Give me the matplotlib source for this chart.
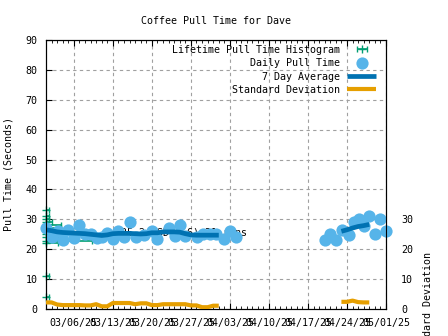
import matplotlib
matplotlib.use("Agg")
import matplotlib.pyplot as plt
import matplotlib.dates as mdates
import numpy as np
import pandas as pd

title = "Coffee Pull Time for Dave"

# daily pulls (seconds)
pull_when = [
    "2025-03-01 00:00", "2025-03-02 00:00", "2025-03-03 05:00", "2025-03-04 02:00",
    "2025-03-05 00:00", "2025-03-06 02:00", "2025-03-07 00:00", "2025-03-08 00:00",
    "2025-03-09 02:00", "2025-03-10 02:00", "2025-03-11 00:00", "2025-03-12 00:00",
    "2025-03-13 02:00", "2025-03-14 00:00", "2025-03-15 02:00", "2025-03-16 02:00",
    "2025-03-17 05:00", "2025-03-18 12:00", "2025-03-20 00:00", "2025-03-21 00:00",
    "2025-03-23 02:00", "2025-03-24 05:00", "2025-03-25 02:00", "2025-03-26 00:00",
    "2025-03-28 02:00", "2025-03-29 02:00", "2025-03-30 10:00", "2025-03-31 14:00",
    "2025-04-02 00:00", "2025-04-03 00:00", "2025-04-04 02:00",
    "2025-04-20 02:00", "2025-04-21 00:00", "2025-04-22 02:00", "2025-04-23 02:00",
    "2025-04-24 07:00", "2025-04-25 05:00", "2025-04-26 02:00", "2025-04-27 02:00",
    "2025-04-28 00:00", "2025-04-29 02:00", "2025-04-30 00:00", "2025-05-01 00:00",
]
pull_secs = [
    27.1, 24.0, 26.2, 23.0, 26.4, 23.9, 28.1, 25.0,
    25.0, 23.9, 24.0, 25.3, 23.3, 26.0, 24.0, 29.2,
    24.2, 24.7, 26.0, 23.3, 27.0, 24.5, 28.1, 24.4,
    24.2, 25.0, 25.0, 25.0, 23.3, 26.0, 24.2,
    23.0, 25.0, 23.0, 26.4, 24.7, 29.2, 30.0, 27.8,
    31.1, 25.0, 30.0, 26.0,
]

# 7 day rolling average, two stretches
avg1_start, avg1_end = "2025-03-01", "2025-04-01"
avg1 = [26.5, 26.2, 25.8, 25.6, 25.5, 25.4, 25.3, 25.2, 25.0, 24.8, 24.6,
        24.8, 25.2, 25.3, 25.3, 25.3, 25.2, 25.1, 25.2, 25.5, 25.5, 25.8,
        25.8, 25.8, 25.7, 25.2, 24.8, 24.7, 24.7, 24.7, 24.7, 24.7]
avg2_start, avg2_end = "2025-04-23", "2025-04-28"
avg2 = [26.0, 26.5, 27.1, 27.6, 27.9, 28.3]

# standard deviation, same stretches
std1 = [2.2, 2.2, 1.5, 1.3, 1.3, 1.3, 1.3, 1.2, 1.2, 1.6, 0.9,
        0.9, 2.0, 2.0, 2.0, 2.0, 1.6, 1.9, 1.9, 1.3, 1.3, 1.6,
        1.6, 1.6, 1.6, 1.6, 1.2, 1.2, 0.6, 0.6, 1.1, 1.1]
std2 = [2.4, 2.4, 2.8, 2.3, 2.2, 2.2]

# lifetime histogram: pull time bin -> count
hist_bins = [4, 11, 22, 22.8, 24, 25, 26, 27, 28, 29, 30, 31, 33]
hist_counts = [1, 1, 4, 15, 6, 10, 7, 5, 5, 2, 1, 1, 1]
hist_scale = 0.55  # days of bar per count

# summary label, mostly hidden behind the points
note_text = "25.2 (SD 1.6) 31 runs"
note_when, note_y = "2025-03-14 12:00", 25.7

x_start, x_end = "2025-03-01", "2025-05-01"

plt.rcParams['font.family'] = ['DejaVu Sans Mono']
plt.rcParams['font.size'] = 7.2

green = "#009e73"
lightblue = "#56b4e9"
darkblue = "#0072b2"
orange = "#e69f00"

fig = plt.figure(figsize=(4.48, 3.36), dpi=100)
ax = fig.add_axes([46 / 448, 1 - 309 / 336, 340 / 448, 269 / 336])

x0 = mdates.date2num(pd.Timestamp(x_start))
x1 = mdates.date2num(pd.Timestamp(x_end))
px = mdates.date2num(pd.to_datetime(pull_when))
a1x = mdates.date2num(pd.date_range(avg1_start, avg1_end, freq="D"))
a2x = mdates.date2num(pd.date_range(avg2_start, avg2_end, freq="D"))

# bars are clipped by the frame, the + markers are not
h_hist = ax.errorbar([x0] * len(hist_bins), hist_bins,
                     xerr=np.array(hist_counts) * hist_scale,
                     fmt="+", color=green, ms=5.5, mew=1, elinewidth=1.2,
                     capsize=2, capthick=1, zorder=2,
                     label="Lifetime Pull Time Histogram")
h_hist.lines[0].set_clip_on(False)
ax.text(mdates.date2num(pd.Timestamp(note_when)), note_y, note_text,
        ha="left", va="center", fontsize=7.2, zorder=2.5)
h_pts, = ax.plot(px, pull_secs, "o", color=lightblue, ms=8.8, mew=0,
                 zorder=3, clip_on=False, label="Daily Pull Time")
h_avg, = ax.plot(a1x, avg1, color=darkblue, lw=3.4, zorder=4,
                 solid_capstyle="butt", label="7 Day Average")
ax.plot(a2x, avg2, color=darkblue, lw=3.4, zorder=4, solid_capstyle="butt")

ax.set_xlim(x0, x1)
ax.set_ylim(0, 90)
ax.set_yticks(range(0, 91, 10))
ax.xaxis.set_major_locator(mdates.WeekdayLocator(byweekday=mdates.TH))
ax.xaxis.set_minor_locator(mdates.DayLocator())
ax.xaxis.set_major_formatter(mdates.DateFormatter("%m/%d/%y"))
ax.tick_params(which="both", direction="in", top=True, right=True,
               colors="black", labelsize=7.2)
ax.tick_params(which="major", length=4)
ax.tick_params(which="minor", length=2.5)
ax.tick_params(axis="x", pad=6.8)
ax.tick_params(axis="y", pad=6)
ax.grid(True, which="major", color="#a0a0a0", ls=(0, (3, 3)), lw=0.8)
ax.set_ylabel("Pull Time (Seconds)")
ax.yaxis.set_label_coords(-(46 - 13) / 340, 0.5)
ax.set_title(title, fontsize=7.2, pad=11.7)

ax2 = ax.twinx()
h_std, = ax2.plot(a1x, std1, color=orange, lw=3, zorder=5,
                  solid_capstyle="butt", label="Standard Deviation")
ax2.plot(a2x, std2, color=orange, lw=3, zorder=5, solid_capstyle="butt")
ax2.set_ylim(0, 90)
ax2.set_yticks(range(0, 31, 10))
ax2.tick_params(axis="y", length=0, pad=11, labelsize=7.2)
ax2.set_ylabel("Standard Deviation")
ax2.yaxis.set_label_coords((423 - 46) / 340, 3 / 269)

leg = ax2.legend([h_hist, h_pts, h_avg, h_std],
                 ["Lifetime Pull Time Histogram", "Daily Pull Time",
                  "7 Day Average", "Standard Deviation"],
                 loc="upper right", bbox_to_anchor=((376 - 46) / 340, (309 - 45) / 269),
                 frameon=False, markerfirst=False, borderpad=0, borderaxespad=0,
                 handlelength=2.9, handletextpad=0.7, labelspacing=0.33,
                 numpoints=1, fontsize=7.2)

fig.savefig("out.png", dpi=100)
